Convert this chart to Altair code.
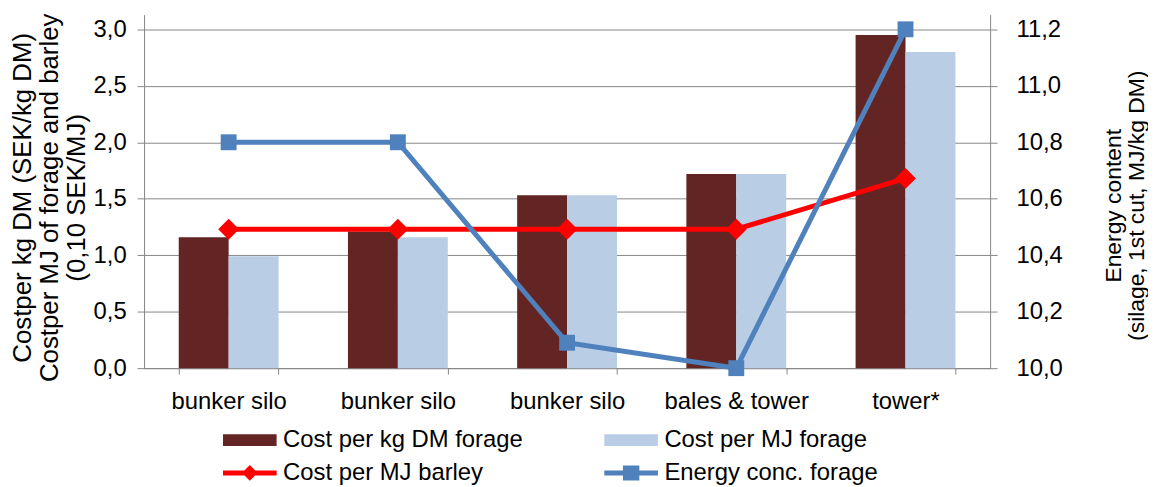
import altair as alt
import pandas as pd

categories = ["bunker silo", "bunker silo", "bunker silo", "bales & tower", "tower*"]
cost_kg_dm = [1.16, 1.21, 1.53, 1.72, 2.95]
cost_mj_forage = [0.99, 1.16, 1.53, 1.72, 2.80]
cost_mj_barley = [1.23, 1.23, 1.23, 1.23, 1.68]
energy_conc = [10.8, 10.8, 10.09, 10.0, 11.2]

series_names = ["Cost per kg DM forage", "Cost per MJ forage", "Cost per MJ barley", "Energy conc. forage"]
series_colors = ["#632523", "#B9CDE5", "#FF0000", "#4F81BD"]
legend_paths = [
    "M-2.04,-0.29H2.04V0.29H-2.04Z",
    "M-2.04,-0.29H2.04V0.29H-2.04Z",
    "M-2.25,0H2.25M0,-0.36L0.36,0L0,0.36L-0.36,0Z",
    "M-2.25,0H2.25M-0.48,-0.42H0.48V0.42H-0.48Z",
]

rows = []
for i in range(len(categories)):
    rows.append({"cat": str(i), "series": series_names[0], "value": cost_kg_dm[i]})
    rows.append({"cat": str(i), "series": series_names[1], "value": cost_mj_forage[i]})
    rows.append({"cat": str(i), "series": series_names[2], "value": cost_mj_barley[i]})
    rows.append({"cat": str(i), "series": series_names[3], "value": energy_conc[i]})
df = pd.DataFrame(rows)

label_expr = "[" + ",".join("'" + c + "'" for c in categories) + "][toNumber(datum.value)]"
FONT = "Liberation Sans"

color_scale = alt.Scale(domain=series_names, range=series_colors)
shape_scale = alt.Scale(domain=series_names, range=legend_paths)

legend = alt.Legend(
    title=None, orient="none", legendX=92, legendY=414, columns=2, direction="horizontal",
    columnPadding=71, rowPadding=4, symbolSize=576, symbolStrokeWidth=5,
    labelFont=FONT, labelFontSize=24, labelColor="#000000", labelOffset=19,
    labelLimit=400, symbolOpacity=1,
)

x_enc = alt.X(
    "cat:N",
    scale=alt.Scale(paddingInner=0.41, paddingOuter=0.205),
    axis=alt.Axis(
        title=None, labelExpr=label_expr, labelAngle=0, labelFont=FONT, labelFontSize=24,
        labelColor="#000000", labelPadding=16, tickBand="extent", tickSize=6,
        tickColor="#868686", domainColor="#868686", grid=False,
    ),
)

y_left = alt.Y(
    "value:Q",
    scale=alt.Scale(domain=[0, 3.13], nice=False, zero=True),
    axis=alt.Axis(
        values=[0, 0.5, 1.0, 1.5, 2.0, 2.5, 3.0],
        labelExpr="replace(format(datum.value, '.1f'), '.', ',')",
        title=["Costper kg DM (SEK/kg DM)", "Costper MJ of forage and barley", "(0,10 SEK/MJ)"],
        titleFont=FONT, titleFontSize=26, titleFontWeight="normal", titleColor="#000000",
        titleLineHeight=27, titleX=-135, titleY=184, titleBaseline="top", titleAngle=270,
        labelFont=FONT, labelFontSize=24, labelColor="#000000", labelPadding=11,
        tickSize=7, tickColor="#868686", domainColor="#868686",
        grid=True, gridColor="#868686", gridWidth=1,
    ),
)

y_right = alt.Y(
    "value:Q",
    scale=alt.Scale(domain=[10.0, 11.252], nice=False, zero=False),
    axis=alt.Axis(
        orient="right",
        values=[10.0, 10.2, 10.4, 10.6, 10.8, 11.0, 11.2],
        labelExpr="replace(format(datum.value, '.1f'), '.', ',')",
        title=["Energy content", "(silage, 1st cut, MJ/kg DM)"],
        titleFont=FONT, titleFontSize=23, titleFontWeight="normal", titleColor="#000000",
        titleLineHeight=23, titleX=113, titleY=192, titleBaseline="top", titleAngle=270,
        labelFont=FONT, labelFontSize=24, labelColor="#000000", labelPadding=19,
        tickSize=7, tickColor="#868686", domainColor="#868686", grid=False,
    ),
)

bars = alt.Chart(df).transform_filter(
    alt.FieldOneOfPredicate(field="series", oneOf=series_names[:2])
).mark_bar(width=alt.RelativeBandSize(1.0)).encode(
    x=x_enc,
    xOffset=alt.XOffset("series:N", scale=alt.Scale(domain=series_names[:2], paddingInner=0, paddingOuter=0)),
    y=y_left,
    color=alt.Color("series:N", scale=color_scale, legend=legend),
)

barley_line = alt.Chart(df).transform_filter(
    alt.datum.series == series_names[2]
).mark_line(strokeWidth=5).encode(
    x=x_enc, y=y_left,
    color=alt.Color("series:N", scale=color_scale, legend=legend),
)
barley_pts = alt.Chart(df).transform_filter(
    alt.datum.series == series_names[2]
).mark_point(shape="diamond", filled=True, size=440, opacity=1).encode(
    x=x_enc, y=y_left,
    color=alt.Color("series:N", scale=color_scale, legend=legend),
)

legend_dummy = alt.Chart(df).transform_filter("false").mark_point(filled=True, opacity=1).encode(
    x=x_enc, y=y_left,
    color=alt.Color("series:N", scale=color_scale, legend=legend),
    shape=alt.Shape("series:N", scale=shape_scale, legend=legend),
)

left_layer = alt.layer(bars, barley_line, barley_pts, legend_dummy)

energy_line = alt.Chart(df).transform_filter(
    alt.datum.series == series_names[3]
).mark_line(strokeWidth=5).encode(
    x=x_enc, y=y_right,
    color=alt.Color("series:N", scale=color_scale, legend=legend),
)
energy_pts = alt.Chart(df).transform_filter(
    alt.datum.series == series_names[3]
).mark_point(shape="square", filled=True, size=256, opacity=1).encode(
    x=x_enc, y=y_right,
    color=alt.Color("series:N", scale=color_scale, legend=legend),
)
right_layer = alt.layer(energy_line, energy_pts)

chart = alt.layer(left_layer, right_layer).resolve_scale(
    y="independent", color="shared", shape="shared"
).properties(
    width=852, height=356,
    autosize=alt.AutoSizeParams(type="none"),
    padding={"left": 137, "top": 5, "right": 159, "bottom": 118},
    background="#FFFFFF",
).configure_view(stroke=None)

chart.save("out.html", embed_options={"renderer": "svg", "actions": False})
